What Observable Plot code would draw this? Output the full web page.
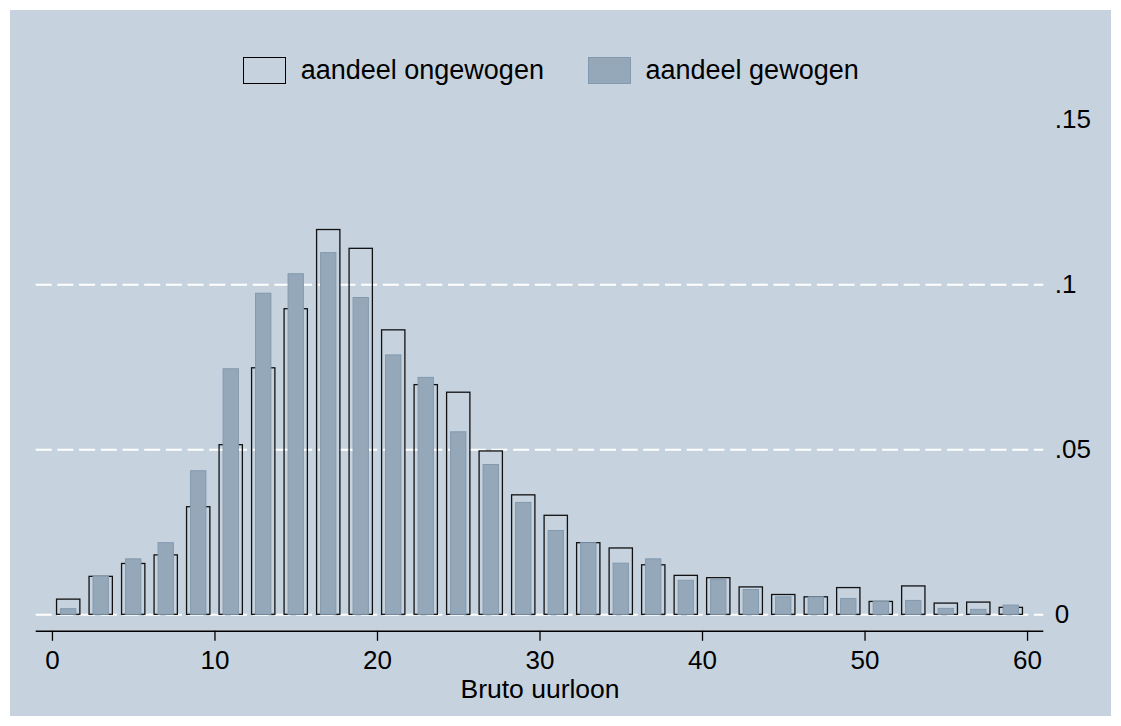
<!DOCTYPE html>
<html>
<head>
<meta charset="utf-8">
<script src="https://cdn.jsdelivr.net/npm/d3@7"></script>
<script src="https://cdn.jsdelivr.net/npm/@observablehq/plot@0.6"></script>
<style>
  html, body { margin: 0; padding: 0; background: #ffffff; }
  #frame {
    position: absolute; left: 10px; top: 10px;
    width: 1101px; height: 706px;
    background: #c6d3df;
    font-family: "Liberation Sans", Arial, sans-serif;
    color: #000;
  }
  #legend {
    height: 90px; position: relative;
  }
  .item { position: absolute; top: 46px; height: 28px; display: flex; align-items: center; font-size: 27px; white-space: nowrap; }
  .swatch { width: 43px; height: 27px; box-sizing: border-box; margin-right: 15px; flex: none; }
  #chart svg { display: block; overflow: visible; }
</style>
</head>
<body>
<div id="frame">
  <div id="legend"></div>
  <div id="chart"></div>
</div>
<script>
// Bin lower edges (bin width 2) of "Bruto uurloon"
const binLower = [0, 2, 4, 6, 8, 10, 12, 14, 16, 18, 20, 22, 24, 26, 28, 30, 32, 34, 36, 38, 40, 42, 44, 46, 48, 50, 52, 54, 56, 58];
const binWidth = 2;
// aandeel ongewogen (unweighted share)
const unweighted = [0.0046, 0.0115, 0.0154, 0.0180, 0.0326, 0.0514, 0.0747, 0.0926, 0.1166, 0.1109, 0.0862, 0.0696, 0.0673, 0.0495, 0.0362, 0.0300, 0.0217, 0.0201, 0.0150, 0.0118, 0.0111, 0.0083, 0.0060, 0.0053, 0.0081, 0.0039, 0.0086, 0.0034, 0.0037, 0.0021];
// aandeel gewogen (weighted share)
const weighted = [0.0017, 0.0116, 0.0168, 0.0217, 0.0435, 0.0744, 0.0973, 0.1032, 0.1096, 0.0960, 0.0786, 0.0718, 0.0553, 0.0454, 0.0339, 0.0254, 0.0217, 0.0155, 0.0168, 0.0103, 0.0105, 0.0075, 0.0053, 0.0053, 0.0048, 0.0039, 0.0042, 0.0018, 0.0015, 0.0028];
const seriesNames = ["aandeel ongewogen", "aandeel gewogen"];
const xTicks = [0, 10, 20, 30, 40, 50, 60];
const yTicks = [0, 0.05, 0.1, 0.15];
const gridTicks = [0, 0.05, 0.1];
const xTitle = "Bruto uurloon";

const FILL = "#95a8ba";
const FILL_STROKE = "#8399ae";

const xDomain = [-1, 61];
const yDomain = [-0.005, 0.15];

const rows = binLower.map((lo, i) => ({lo, hi: lo + binWidth, u: unweighted[i], w: weighted[i]}));

// Legend (HTML)
const legend = document.getElementById("legend");
const lefts = [232.7, 577.5];
seriesNames.forEach((name, i) => {
  const it = document.createElement("div");
  it.className = "item";
  it.style.left = lefts[i] + "px";
  const sw = document.createElement("div");
  sw.className = "swatch";
  if (i === 0) { sw.style.border = "1.3px solid #000"; sw.style.background = "transparent"; }
  else { sw.style.border = "1px solid " + FILL_STROKE; sw.style.background = FILL; }
  const t = document.createElement("span");
  t.textContent = name;
  it.appendChild(sw); it.appendChild(t);
  legend.appendChild(it);
});

const fmt = d => d === 0 ? "0" : String(d).replace(/^0/, "");

const chart = Plot.plot({
  width: 1101,
  height: 616,
  marginTop: 19.3,
  marginBottom: 85.2,
  marginLeft: 25.7,
  marginRight: 67.7,
  style: {background: "transparent", fontFamily: "\"Liberation Sans\", Arial, sans-serif", fontSize: "26px", color: "#000", overflow: "visible"},
  x: {domain: xDomain, axis: null},
  y: {domain: yDomain, axis: null},
  marks: [
    Plot.ruleY(gridTicks, {stroke: "#ffffff", strokeWidth: 2, strokeDasharray: "16,5.7"}),
    Plot.rectY(rows, {x1: "lo", x2: "hi", y: "u", fill: "none", stroke: "#111", strokeWidth: 1.3, insetLeft: 4.6, insetRight: 4.6}),
    Plot.rectY(rows, {x1: "lo", x2: "hi", y: "w", fill: FILL, stroke: FILL_STROKE, strokeWidth: 1, insetLeft: 8.6, insetRight: 8.6}),
    Plot.ruleY([yDomain[0]], {stroke: "#000", strokeWidth: 1.4}),
    Plot.axisX({ticks: xTicks, tickSize: 10, tickPadding: 9, tickFormat: d => String(d), label: null, stroke: "#000", strokeWidth: 1.3, fontSize: 26}),
    Plot.axisY({anchor: "right", ticks: yTicks, tickSize: 0, tickPadding: 11, tickFormat: fmt, label: null, fontSize: 26}),
    Plot.text([xTitle], {frameAnchor: "bottom", lineAnchor: "middle", dy: 58.5, text: d => d, fontSize: 26.5, fill: "#000"})
  ]
});
document.getElementById("chart").appendChild(chart);
</script>
</body>
</html>
